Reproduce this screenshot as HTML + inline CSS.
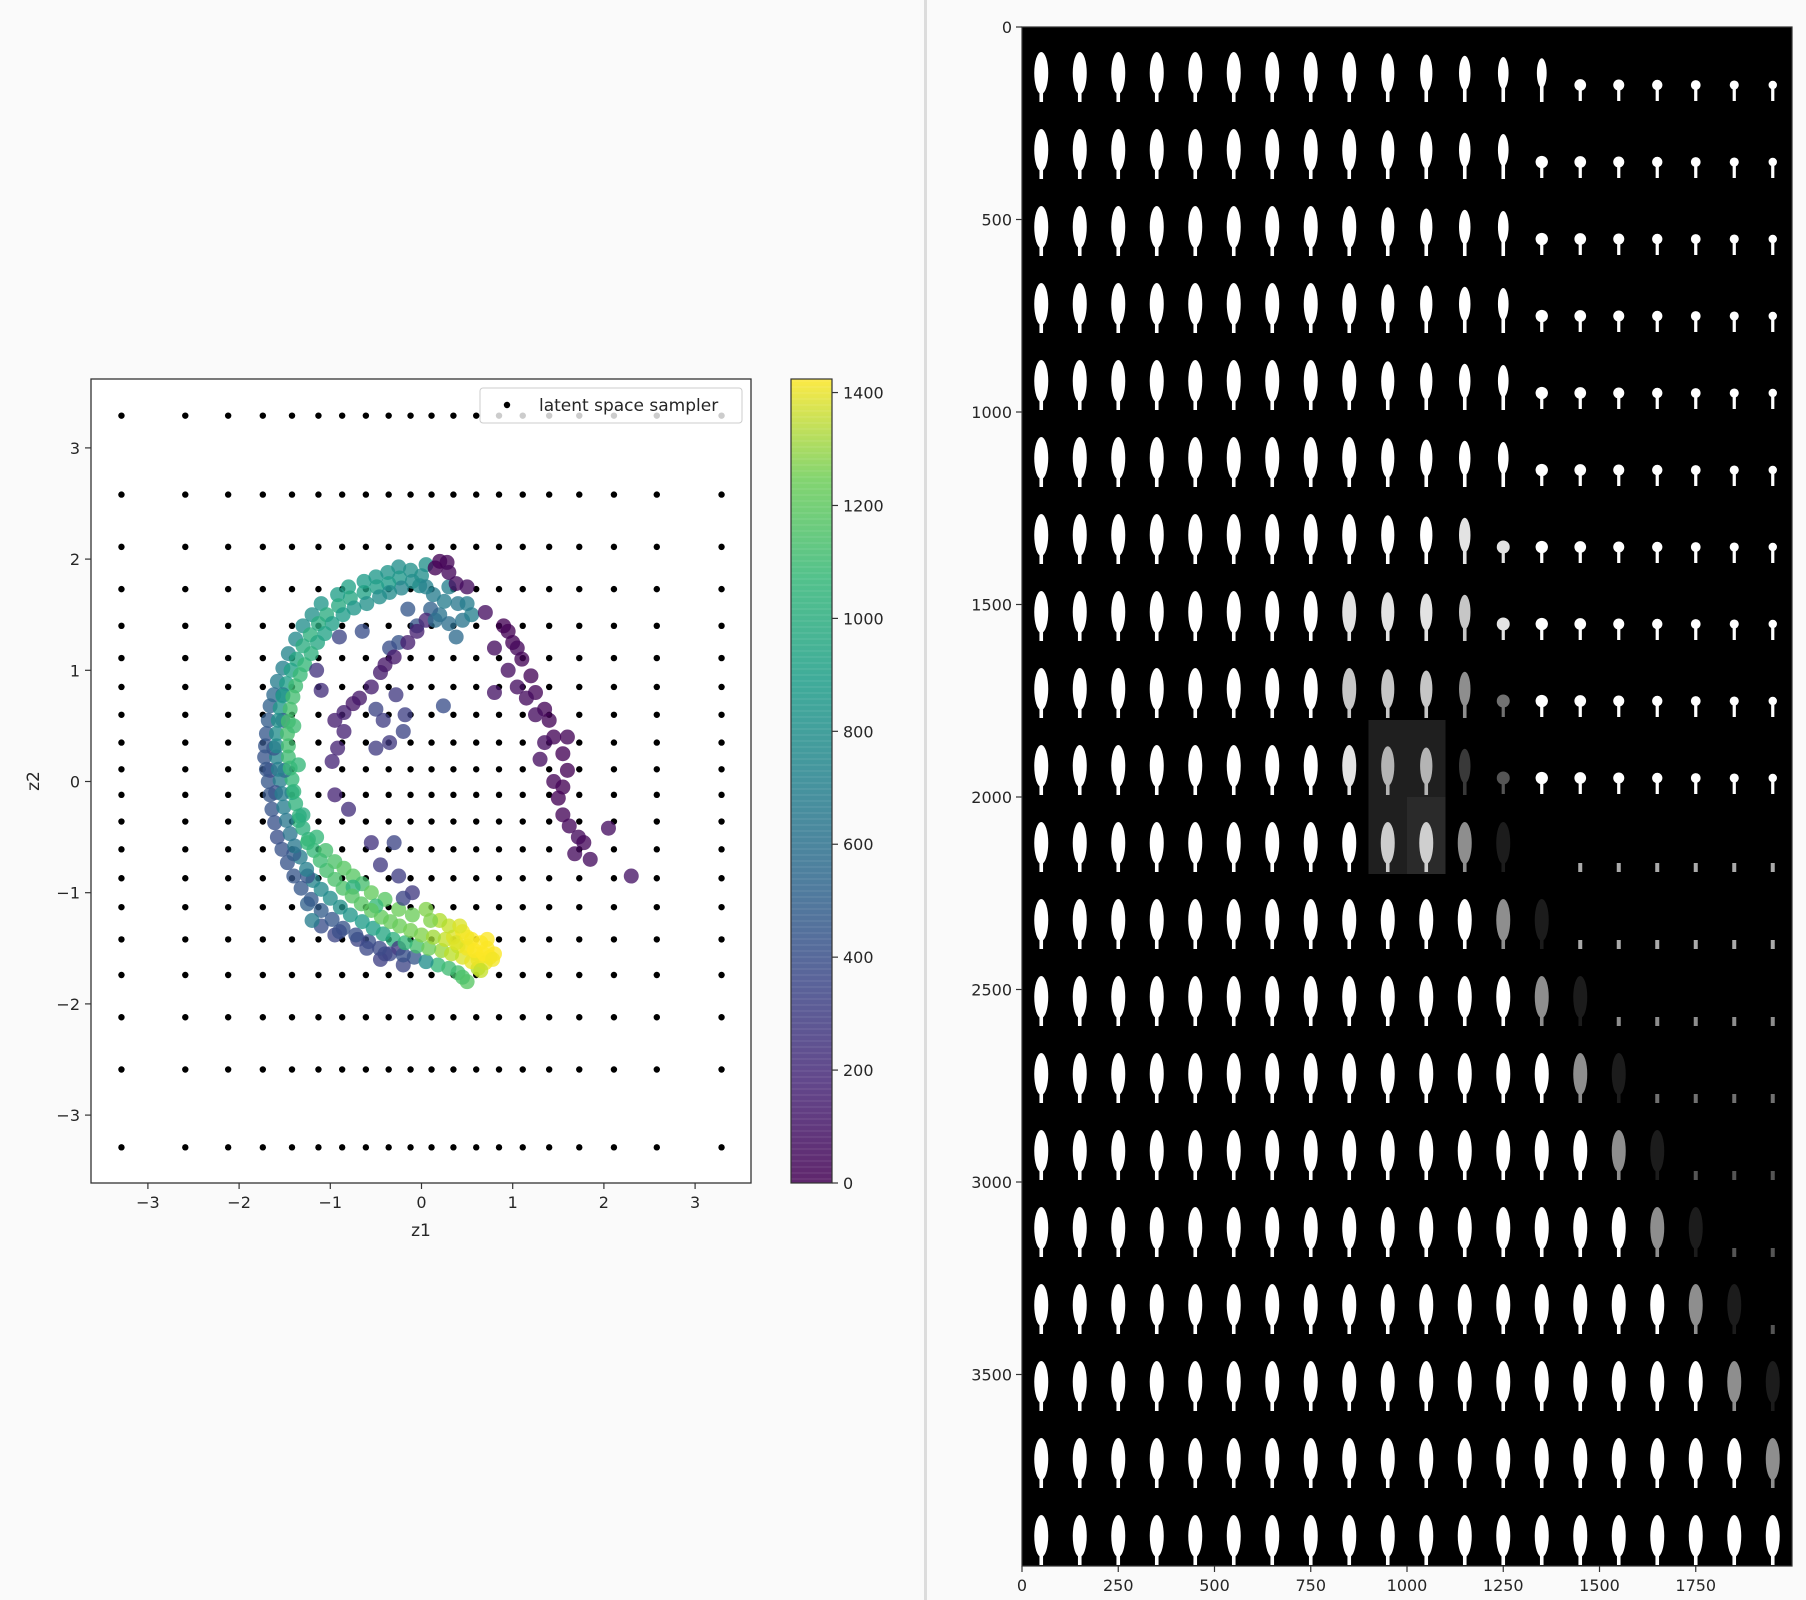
<!DOCTYPE html>
<html><head><meta charset="utf-8"><style>
html,body{margin:0;padding:0;background:#fafafa;}
svg{display:block;font-family:"DejaVu Sans","Liberation Sans",sans-serif;}
</style></head><body>
<svg id="fig" width="1806" height="1600" viewBox="0 0 1806 1600" xmlns="http://www.w3.org/2000/svg">
<rect x="0" y="0" width="1806" height="1600" fill="#fafafa"/>
<rect x="924" y="0" width="3" height="1600" fill="#dcdcdc"/>
<defs>
<linearGradient id="vir" x1="0" y1="1" x2="0" y2="0">
<stop offset="0" stop-color="#440154"/><stop offset="0.125" stop-color="#482878"/><stop offset="0.25" stop-color="#3e4989"/><stop offset="0.375" stop-color="#31688e"/><stop offset="0.5" stop-color="#26828e"/><stop offset="0.625" stop-color="#1f9e89"/><stop offset="0.75" stop-color="#35b779"/><stop offset="0.875" stop-color="#6ece58"/><stop offset="1" stop-color="#fde725"/>
</linearGradient>
<clipPath id="clipL"><rect x="91" y="379" width="660" height="804"/></clipPath>
</defs>
<rect x="91" y="379" width="660" height="804" fill="#fff"/>
<g id="gridDots" clip-path="url(#clipL)"></g>
<g id="scatter" clip-path="url(#clipL)"></g>
<g id="legend">
<rect x="480" y="388" width="262" height="35" rx="3" fill="#fff" fill-opacity="0.8" stroke="#cccccc"/>
<circle cx="507" cy="405" r="3.2" fill="#000"/>
<text x="539" y="411" font-size="17" fill="#262626">latent space sampler</text>
</g>
<rect x="91" y="379" width="660" height="804" fill="none" stroke="#333" stroke-width="1.3"/>
<g id="leftAxes"></g>
<text x="421" y="1236" font-size="17" text-anchor="middle" fill="#262626">z1</text>
<text x="39" y="781" font-size="17" text-anchor="middle" fill="#262626" transform="rotate(-90 39 781)">z2</text>
<rect x="791" y="379" width="41" height="804" fill="url(#vir)" fill-opacity="0.85"/>
<g id="cbStripes"></g>
<rect x="791" y="379" width="41" height="804" fill="none" stroke="#333" stroke-width="1.2"/>
<g id="cbTicks"></g>
<rect x="1022" y="27" width="770" height="1539" fill="#000"/>
<rect x="1368.5" y="720" width="77" height="154" fill="#1f1f1f"/>
<rect x="1407" y="797" width="38.5" height="77" fill="#2a2a2a"/>
<g id="cells"></g>
<rect x="1022" y="27" width="770" height="1539" fill="none" stroke="#333" stroke-width="1.2"/>
<g id="rightAxes"></g>
</svg>
<script>
// ---------- data ----------
const gridVals = [-3.29,-2.59,-2.12,-1.74,-1.42,-1.13,-0.87,-0.61,-0.36,-0.12,0.11,0.35,0.60,0.85,1.11,1.40,1.73,2.11,2.58,3.29];
const xTicks = [-3,-2,-1,0,1,2,3];
const yTicks = [-3,-2,-1,0,1,2,3];
const cbTicks = [0,200,400,600,800,1000,1200,1400];
const cMax = 1424;
const ptsX = [0.05,0.0,-0.02,-0.25,-0.24,-0.22,-0.5,-0.49,-0.46,-0.8,-0.78,-0.74,-1.1,-1.04,-0.98,-1.3,-1.22,-1.14,-1.46,-1.37,-1.28,-1.58,-1.48,-1.38,-1.66,-1.55,-1.44,-1.70,-1.59,-1.47,-1.72,-1.59,-1.46,-1.68,-1.55,-1.42,-1.64,-1.51,-1.38,-1.58,-1.44,-1.30,-1.47,-1.33,-1.18,-1.32,-1.19,-1.04,-1.1,-1.0,-0.86,-0.86,-0.78,-0.66,-0.58,-0.53,-0.44,-0.35,-0.31,-0.24,-0.08,-0.05,0.0,0.18,0.22,0.26,0.40,0.45,0.5,0.5,0.62,
0.35,0.45,0.55,0.65,0.72,0.75,0.6,0.5,0.3,0.2,0.7,0.62,0.4,0.8,
-1.15,-1.05,-0.95,-0.85,-0.75,-0.65,-0.55,-0.4,-0.25,-0.1,0.05,0.1,-0.75,-0.5,
-1.1,-0.95,-0.7,-0.45,-0.2,-0.25,-1.25,
0.13,0.3,0.4,0.2,0.45,0.3,0.55,0.38,0.1,-0.15,-0.05,-0.25,-0.35,
0.2,0.28,0.15,0.3,0.38,0.5,0.7,0.9,0.95,1.0,1.1,1.2,1.25,1.35,1.4,1.45,1.55,1.6,1.55,1.5,1.55,1.62,1.72,1.78,1.85,1.68,2.05,2.3,
0.8,0.95,1.05,1.15,1.25,1.35,1.3,0.8,1.05,1.45,1.6,
0.05,-0.05,-0.15,-0.3,-0.45,-0.55,-0.68,-0.85,-0.95,-0.85,-0.92,-0.98,-0.75,-0.4,
-0.28,-0.18,-0.5,-0.42,-0.2,0.24,-0.5,-0.35,-0.95,-0.8,-0.55,-0.3,-0.45,-0.25,-0.1,-0.2,-1.1,-1.15,-0.9,-0.65,
-1.52,-1.62,-1.5,-1.42,-1.35,-1.6,-1.66,-1.52,-1.4,-1.25,-1.2,-0.9,-0.6,-0.4];
const ptsY = [1.95,1.85,1.76,1.93,1.83,1.74,1.84,1.75,1.66,1.75,1.65,1.56,1.6,1.5,1.42,1.4,1.32,1.25,1.15,1.1,1.05,0.9,0.88,0.86,0.68,0.66,0.65,0.43,0.43,0.43,0.22,0.22,0.22,0.0,0.01,0.02,-0.25,-0.23,-0.2,-0.5,-0.47,-0.42,-0.73,-0.68,-0.62,-0.96,-0.89,-0.8,-1.16,-1.05,-0.96,-1.32,-1.2,-1.1,-1.44,-1.32,-1.22,-1.55,-1.42,-1.3,-1.58,-1.48,-1.38,-1.65,-1.52,-1.42,-1.72,-1.58,-1.48,-1.8,-1.68,
-1.4,-1.35,-1.42,-1.45,-1.5,-1.58,-1.55,-1.5,-1.3,-1.25,-1.63,-1.6,-1.48,-1.55,
-0.5,-0.62,-0.72,-0.78,-0.85,-0.92,-1.0,-1.06,-1.15,-1.2,-1.15,-1.25,-0.95,-1.12,
-1.3,-1.38,-1.42,-1.6,-1.65,-1.5,-1.1,
1.68,1.75,1.6,1.5,1.45,1.42,1.5,1.3,1.55,1.55,1.4,1.25,1.2,
1.98,1.97,1.92,1.88,1.78,1.75,1.52,1.4,1.35,1.25,1.1,0.95,0.8,0.65,0.55,0.4,0.25,0.1,-0.05,-0.15,-0.3,-0.4,-0.5,-0.55,-0.7,-0.65,-0.42,-0.85,
1.2,1.0,0.85,0.75,0.6,0.35,0.2,0.8,1.2,0.0,0.4,
1.45,1.35,1.25,1.12,0.98,0.85,0.75,0.62,0.55,0.45,0.3,0.18,0.7,1.05,
0.78,0.6,0.65,0.55,0.45,0.68,0.3,0.35,-0.12,-0.25,-0.55,-0.55,-0.75,-0.85,-1.0,-1.05,0.82,1.0,1.3,1.35,
0.55,0.3,0.1,-0.1,-0.35,-0.1,0.1,0.78,-0.65,-0.85,-1.25,-1.35,-1.5,-1.55];
const ptsC = [720,700,680,700,760,650,760,800,700,820,850,750,750,880,800,700,900,850,650,850,950,600,800,980,450,750,1000,400,700,1000,380,650,980,400,600,950,380,600,920,350,550,900,380,600,950,400,650,1000,420,700,1020,380,750,1050,350,800,1080,320,900,1100,400,1000,1150,950,1200,1300,1000,1350,1400,1050,1250,
1350,1400,1420,1430,1430,1410,1420,1400,1300,1250,1380,1400,1380,1420,
950,1000,1020,1050,1050,1000,1080,1050,1100,1100,1150,1150,900,950,
350,300,300,280,300,250,450,
600,620,580,550,560,520,620,500,450,400,380,380,350,
10,20,10,30,40,50,60,5,5,10,15,20,25,20,15,15,10,5,5,10,20,30,40,30,50,40,60,80,
50,60,60,40,50,60,60,80,30,20,15,
150,130,120,100,110,120,100,130,120,140,150,160,90,90,
250,280,300,270,300,350,260,250,150,200,220,300,250,270,250,300,200,220,300,350,
420,380,500,850,900,350,330,550,420,380,600,350,320,300];
const extraX = [-0.12,-0.1,-0.37,-0.36,-0.35,-0.63,-0.63,-0.6,-0.92,-0.91,-0.86,-1.2,-1.13,-1.06,-1.38,-1.3,-1.21,-1.52,-1.43,-1.33,-1.62,-1.52,-1.41,-1.68,-1.57,-1.46,-1.71,-1.59,-1.46,-1.70,-1.57,-1.44,-1.66,-1.53,-1.40,-1.61,-1.48,-1.34,-1.53,-1.39,-1.24,-1.4,-1.26,-1.11,-1.21,-1.1,-0.95,-0.98,-0.89,-0.76,-0.72,-0.65,-0.55,-0.46,-0.42,-0.34,-0.2,-0.18,-0.12,0.05,0.08,0.13,0.3,0.33,0.38,0.45,0.55,0.58,0.68,0.72,0.78,0.65,0.5,0.42,
0.05,0.25,0.5,0.15,-1.3,-1.25,-1.35,-1.4];
const extraY = [1.9,1.8,1.88,1.78,1.7,1.8,1.7,1.6,1.68,1.58,1.5,1.5,1.42,1.33,1.28,1.22,1.15,1.02,1.0,0.96,0.78,0.77,0.76,0.55,0.55,0.54,0.32,0.32,0.32,0.11,0.11,0.12,-0.12,-0.11,-0.09,-0.37,-0.35,-0.31,-0.61,-0.58,-0.52,-0.85,-0.79,-0.71,-1.06,-0.97,-0.88,-1.24,-1.13,-1.03,-1.38,-1.26,-1.16,-1.5,-1.37,-1.26,-1.56,-1.45,-1.34,-1.62,-1.5,-1.4,-1.68,-1.55,-1.45,-1.76,-1.62,-1.52,-1.55,-1.42,-1.6,-1.7,-1.4,-1.3,
1.75,1.62,1.6,1.45,-0.3,-0.55,0.15,0.5];
const extraC = [720,700,740,780,690,780,820,720,800,860,780,720,880,820,680,880,900,620,820,960,500,780,990,420,720,1000,390,680,990,390,620,960,390,600,930,360,570,910,370,580,930,390,620,980,410,680,1010,400,720,1040,360,780,1060,330,850,1090,360,950,1120,700,1100,1220,980,1280,1350,1020,1380,1420,1425,1420,1400,1300,1400,1350,
640,600,600,520,880,950,950,980];
const rowBright = ["99999999999999999999","99999999999999999999","99999999999999999999","99999999999999999999","99999999999999999999","99999999999999999999",
"99999999999889999999","99999999888789999999","99999999777549999999","99999999866239999999","99999999977510666666",
"99999999999951666666","99999999999995155555","99999999999999514444","99999999999999951333","99999999999999995133",
"99999999999999999513","99999999999999999951","99999999999999999995","99999999999999999999"];
const rowKind = ["BBBBBBBBBBBBBBMMMMMM","BBBBBBBBBBBBBMMMMMMM","BBBBBBBBBBBBBMMMMMMM","BBBBBBBBBBBBBMMMMMMM","BBBBBBBBBBBBBMMMMMMM","BBBBBBBBBBBBBMMMMMMM",
"BBBBBBBBBBBBMMMMMMMM","BBBBBBBBBBBBMMMMMMMM","BBBBBBBBBBBBMMMMMMMM","BBBBBBBBBBBBMMMMMMMM","BBBBBBBBBBBBBMtttttt",
"BBBBBBBBBBBBBBtttttt","BBBBBBBBBBBBBBBttttt","BBBBBBBBBBBBBBBBtttt","BBBBBBBBBBBBBBBBBttt","BBBBBBBBBBBBBBBBBBtt",
"BBBBBBBBBBBBBBBBBBBt","BBBBBBBBBBBBBBBBBBBB","BBBBBBBBBBBBBBBBBBBB","BBBBBBBBBBBBBBBBBBBB"];
const imgXTicks = [0,250,500,750,1000,1250,1500,1750];
const imgYTicks = [0,500,1000,1500,2000,2500,3000,3500];

// ---------- scales ----------
const NS="http://www.w3.org/2000/svg";
const X = v => 421.5 + v*91.2;
const Y = v => 781.5 - v*111.2;
const CY = v => 1183 - v/cMax*804;
const RX = v => 1022 + v*0.385;
const RY = v => 27 + v*0.385;
const vstops = [[68,1,84],[72,40,120],[62,73,137],[49,104,142],[38,130,142],[31,158,137],[53,183,121],[110,206,88],[181,222,43],[253,231,37]];
function viridis(v){let t=Math.max(0,Math.min(1,v/cMax))*(vstops.length-1);let i=Math.min(Math.floor(t),vstops.length-2);let f=t-i;const a=vstops[i],b=vstops[i+1];return `rgb(${Math.round(a[0]+(b[0]-a[0])*f)},${Math.round(a[1]+(b[1]-a[1])*f)},${Math.round(a[2]+(b[2]-a[2])*f)})`;}
function mk(tag,attrs,parent){const e=document.createElementNS(NS,tag);for(const k in attrs)e.setAttribute(k,attrs[k]);parent.appendChild(e);return e;}

const allX=ptsX.concat(extraX), allY=ptsY.concat(extraY), allC=ptsC.concat(extraC);

// grid sampler dots
const gd=document.getElementById('gridDots');
gridVals.forEach(gy=>gridVals.forEach(gx=>{
  const c=mk('circle',{cx:X(gx),cy:Y(gy),r:3.2,fill:'#000'},gd);
  
  
}));
// scatter
const sc=document.getElementById('scatter');
allC.forEach((cv,i)=>{
  const c=mk('circle',{cx:X(allX[i]),cy:Y(allY[i]),r:7.5,fill:viridis(cv),'fill-opacity':0.78},sc);
  
  
});
// left axes ticks
const la=document.getElementById('leftAxes');
xTicks.forEach(t=>{
  mk('line',{x1:X(t),x2:X(t),y1:1183,y2:1189,stroke:'#333','stroke-width':1.2},la);
  const tx=mk('text',{x:X(t),y:1208,'font-size':16,'text-anchor':'middle',fill:'#262626'},la);
  tx.textContent=t<0?'\u2212'+Math.abs(t):String(t);
  
  
});
yTicks.forEach(t=>{
  mk('line',{x1:85,x2:91,y1:Y(t),y2:Y(t),stroke:'#333','stroke-width':1.2},la);
  const tx=mk('text',{x:80,y:Y(t)+6,'font-size':16,'text-anchor':'end',fill:'#262626'},la);
  tx.textContent=t<0?'\u2212'+Math.abs(t):String(t);
  
  
});
// colorbar stripes & ticks
const cs=document.getElementById('cbStripes');
for(let y=381;y<1183;y+=6){mk('line',{x1:791,x2:832,y1:y,y2:y,stroke:'#fff','stroke-opacity':0.12,'stroke-width':1},cs);}
const cbt=document.getElementById('cbTicks');
cbTicks.forEach(t=>{
  mk('line',{x1:832,x2:838,y1:CY(t),y2:CY(t),stroke:'#333','stroke-width':1.2},cbt);
  const tx=mk('text',{x:843,y:CY(t)+6,'font-size':16,fill:'#262626'},cbt);
  tx.textContent=String(t);
  
  
});
// image cells
const cg=document.getElementById('cells');
rowBright.forEach((row,r)=>{
  for(let c=0;c<20;c++){
    const b=parseInt(row[c])/9; if(b<=0) continue;
    const k=rowKind[r][c];
    const cx=RX(c*100+50), top=RY(r*200);
    const g=mk('g',{fill:'#fff',opacity:b},cg);
    
    
    if(k==='B'){
      const shrink = r<10 ? Math.max(0.65,1-Math.max(0,c-8)*0.06) : 1;
      mk('ellipse',{cx:cx,cy:top+46,rx:7*shrink,ry:21*shrink},g);
      mk('rect',{x:cx-1.8,y:top+60,width:3.6,height:15},g);
    } else if(k==='M'){
      const s=Math.max(0.6,1-(c-12)*0.05);
      mk('ellipse',{cx:cx,cy:top+58,rx:6.5*s,ry:6.5*s},g);
      mk('rect',{x:cx-1.6,y:top+60,width:3.2,height:14},g);
    } else {
      mk('rect',{x:cx-2,y:top+66,width:4,height:9},g);
    }
  }
});
// right axes ticks
const ra=document.getElementById('rightAxes');
imgXTicks.forEach(t=>{
  mk('line',{x1:RX(t),x2:RX(t),y1:1566,y2:1572,stroke:'#333','stroke-width':1.2},ra);
  const tx=mk('text',{x:RX(t),y:1591,'font-size':16,'text-anchor':'middle',fill:'#262626'},ra);
  tx.textContent=String(t);
  
  
});
imgYTicks.forEach(t=>{
  mk('line',{x1:1016,x2:1022,y1:RY(t),y2:RY(t),stroke:'#333','stroke-width':1.2},ra);
  const tx=mk('text',{x:1012,y:RY(t)+6,'font-size':16,'text-anchor':'end',fill:'#262626'},ra);
  tx.textContent=String(t);
  
  
});
</script>
</body></html>
